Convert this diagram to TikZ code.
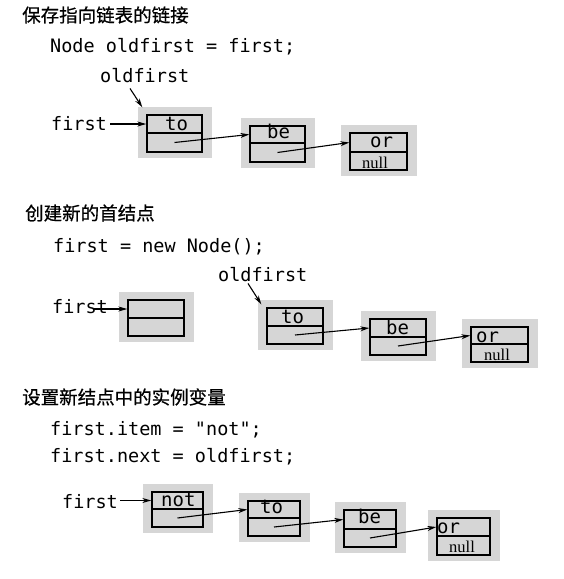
\documentclass[tikz,border=0pt]{standalone}
\usepackage{fontspec}
\usetikzlibrary{arrows.meta,fit}
\newfontfamily\cjk[FakeBold=0.6]{Noto Sans CJK SC}
\newfontfamily\codefont{DejaVu Sans Mono}
\newfontfamily\serifnull{Liberation Serif}
\tikzset{
  title/.style={anchor=west,inner sep=0,font=\cjk\fontsize{18.5}{20}\selectfont},
  code/.style={anchor=base west,inner sep=0,font=\codefont\fontsize{18.5}{20}\selectfont},
  cell/.style={draw,line width=1.4pt,inner sep=0},
  shadowbox/.style={fill=gray!32},
  lbl/.style={anchor=base west,inner sep=0,font=\codefont\fontsize{19}{20}\selectfont},
  nul/.style={anchor=base west,inner sep=0,font=\serifnull\fontsize{16.5}{18}\selectfont},
  ptr/.style={line width=1.1pt,-{Stealth[length=9pt,width=5pt]}},
}
\newcommand\listbox[6]{% name, x1, y1, x2, ymid, y2
  \fill[shadowbox] (#2-9,#3-8) rectangle (#4+10,#6+6);
  \node[cell,fit={(#2,#3)(#4,#5)}] (#1-top) {};
  \node[cell,fit={(#2,#5)(#4,#6)}] (#1-bot) {};
}
\begin{document}
\begin{tikzpicture}[x=1pt,y=-1pt]
\useasboundingbox (0,0) rectangle (563,579);
% ---------- section 1
\node[title] (t1) at (22,15) {保存指向链表的链接};
\node[code] (code1) at (50,52) {Node oldfirst = first;};
\node[code] (old1) at (100,82) {oldfirst};
\node[code] (first1) at (51,130) {first};
\listbox{a1}{147}{115}{202}{133}{152}
\listbox{b1}{250}{126}{305}{143}{162}
\listbox{c1}{350}{133}{407}{152}{170}
\node[lbl] (a1-l) at (165,130) {to};
\node[lbl] (b1-l) at (267,138) {be};
\node[lbl] (c1-l) at (370,147) {or};
\node[nul] (c1-n) at (362,168) {null};
\draw[ptr] ([xshift=3pt]first1.east |- a1-top.west) -- (a1-top.west);
\draw[ptr] ([xshift=30pt,yshift=-6pt]old1.south west) -- ([xshift=-4pt,yshift=7pt]a1-top.north west);
\draw[ptr] (a1-bot.center) -- (b1-top.west);
\draw[ptr] (b1-bot.center) -- (c1-top.west);
% ---------- section 2
\node[title] (t2) at (25,213) {创建新的首结点};
\node[code] (code2) at (53,252) {first = new Node();};
\node[code] (old2) at (218,281) {oldfirst};
\node[code] (first2) at (52,313) {first};
\listbox{e2}{128}{300}{184}{318}{336}
\listbox{a2}{267}{308}{323}{326}{344}
\listbox{b2}{370}{319}{426}{337}{355}
\listbox{c2}{471}{327}{528}{344}{362}
\node[lbl] (a2-l) at (281,323) {to};
\node[lbl] (b2-l) at (386,334) {be};
\node[lbl] (c2-l) at (476,342) {or};
\node[nul] (c2-n) at (484,360) {null};
\draw[ptr] ([xshift=-15pt]first2.east |- e2-top.west) -- (e2-top.west);
\draw[ptr] ([xshift=30pt,yshift=-2pt]old2.south west) -- ([xshift=-5pt,yshift=3pt]a2-top.north west);
\draw[ptr] (a2-bot.center) -- (b2-top.west);
\draw[ptr] (b2-bot.center) -- (c2-top.west);
% ---------- section 3
\node[title] (t3) at (22,397) {设置新结点中的实例变量};
\node[code] (code3a) at (50,435) {first.item = "not";};
\node[code] (code3b) at (50,462) {first.next = oldfirst;};
\node[code] (first3) at (62,508) {first};
\listbox{n3}{152}{492}{203}{509}{527}
\listbox{a3}{248}{501}{300}{518}{536}
\listbox{b3}{344}{510}{396}{529}{547}
\listbox{c3}{437}{518}{490}{536}{555}
\node[lbl] (n3-l) at (161,506) {not};
\node[lbl] (a3-l) at (260,513) {to};
\node[lbl] (b3-l) at (358,523) {be};
\node[lbl] (c3-l) at (437,533) {or};
\node[nul] (c3-n) at (449,552) {null};
\draw[ptr] ([xshift=2pt]first3.east |- n3-top.west) -- (n3-top.west);
\draw[ptr] (n3-bot.center) -- (a3-top.west);
\draw[ptr] (a3-bot.center) -- (b3-top.west);
\draw[ptr] (b3-bot.center) -- (c3-top.west);
\end{tikzpicture}
\end{document}
